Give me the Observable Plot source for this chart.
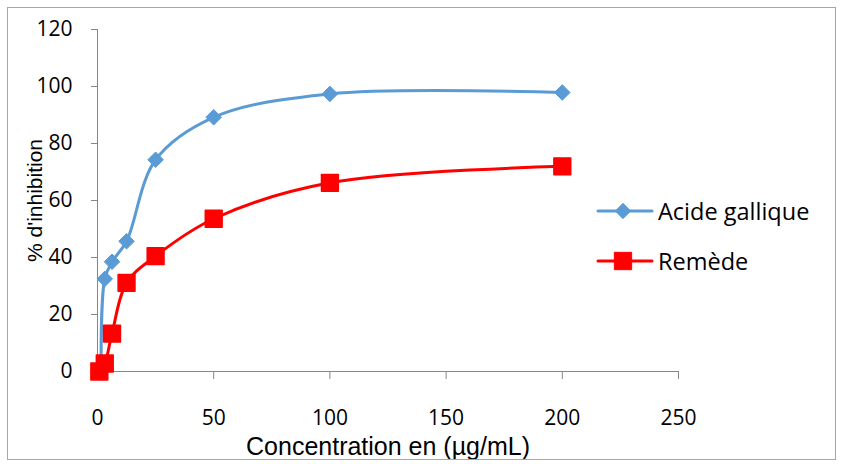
<!DOCTYPE html>
<html>
<head>
<meta charset="utf-8">
<script src="https://cdn.jsdelivr.net/npm/d3@7"></script>
<script src="https://cdn.jsdelivr.net/npm/@observablehq/plot@0.6"></script>
<style>
  body { margin: 0; background: #fff; }
  #wrap { position: relative; width: 842px; height: 464px; overflow: hidden; }
  #frame { position: absolute; left: 7px; top: 7px; width: 829px; height: 453px; border: 1.5px solid #a6a6a6; box-sizing: border-box; pointer-events: none; }
  #chart { position: absolute; left: 0; top: 0; }
  .leg { position: absolute; left: 596px; display: flex; align-items: center; font-family: "Open Sans", sans-serif; font-size: 23.5px; color: #000; }
  .leg svg { display: block; margin-right: 4px; }
</style>
</head>
<body>
<div id="wrap">
  <div id="chart"></div>
  <div id="frame"></div>
  <div class="leg" id="leg1" style="top:195px"></div>
  <div class="leg" id="leg2" style="top:245px"></div>
</div>
<script>
// ---- data ----
const seriesNames = ["Acide gallique", "Remède"];
const concAG = [1.56, 3.125, 6.25, 12.5, 25, 50, 100, 200];
const inhibAG = [0, 32.5, 38.5, 45.7, 74.3, 89.2, 97.4, 97.9];
const concRem = [0.78, 3.125, 6.25, 12.5, 25, 50, 100, 200];
const inhibRem = [0, 2.8, 13.3, 31.1, 40.5, 53.6, 66.2, 72.0];
const xTicks = [0, 50, 100, 150, 200, 250];
const yTicks = [0, 20, 40, 60, 80, 100, 120];
const xTitle = "Concentration en (µg/mL)";
const yTitle = "% d'inhibition";

const blue = "#5b9bd5";
const red = "#ff0000";
const axisGray = "#868686";

const ag = concAG.map((c, i) => ({c, v: inhibAG[i]}));
const rem = concRem.map((c, i) => ({c, v: inhibRem[i]}));

const plot = Plot.plot({
  width: 842,
  height: 464,
  marginLeft: 97,
  marginRight: 164,
  marginTop: 29,
  marginBottom: 93,
  style: { fontFamily: "Open Sans, sans-serif", fontSize: "21px", color: "#000", background: "transparent", overflow: "visible" },
  x: { domain: [0, 250] },
  y: { domain: [0, 120] },
  marks: [
    Plot.ruleY([0], { stroke: axisGray, strokeWidth: 1 }),
    Plot.ruleX([0], { stroke: axisGray, strokeWidth: 1 }),
    Plot.axisX({ ticks: xTicks, tickSize: 8, tickPadding: 31, stroke: axisGray, label: null, fontSize: 21, tickFormat: d => String(d) }),
    Plot.axisY({ ticks: yTicks, tickSize: 6, tickPadding: 19, stroke: axisGray, label: null, fontSize: 21, tickFormat: d => String(d) }),
    Plot.line(ag, { x: "c", y: "v", stroke: blue, strokeWidth: 3, curve: "catmull-rom" }),
    Plot.dot(ag, { x: "c", y: "v", symbol: "diamond2", r: 7, fill: blue, stroke: blue, strokeWidth: 1 }),
    Plot.line(rem, { x: "c", y: "v", stroke: red, strokeWidth: 3, curve: "catmull-rom" }),
    Plot.dot(rem, { x: "c", y: "v", symbol: "square", r: 9.5, fill: red, stroke: red, strokeWidth: 1.5, strokeLinejoin: "round" }),
    Plot.text([xTitle], { text: d => d, frameAnchor: "bottom", dy: 83, fontFamily: "Liberation Sans, Arial, sans-serif", fontSize: 25, fill: "#000" }),
    Plot.text([yTitle], { text: d => d, frameAnchor: "left", textAnchor: "middle", dx: -62, rotate: -90, fontFamily: "Liberation Sans, Arial, sans-serif", fontSize: 21, fill: "#000" })
  ]
});
document.getElementById("chart").appendChild(plot);

// ---- legend ----
function swatch(color, symbol) {
  const s = d3.create("svg").attr("width", 58).attr("height", 20);
  s.append("line").attr("x1", 2).attr("x2", 56).attr("y1", 10).attr("y2", 10)
    .attr("stroke", color).attr("stroke-width", 3).attr("stroke-linecap", "round");
  const size = symbol === "diamond" ? 150 : 300;
  const sym = symbol === "diamond" ? d3.symbolDiamond2 : d3.symbolSquare;
  s.append("path").attr("transform", "translate(27,10)")
    .attr("d", d3.symbol(sym, size)())
    .attr("fill", color).attr("stroke", color).attr("stroke-linejoin", "round");
  return s.node();
}
const l1 = document.getElementById("leg1");
l1.appendChild(swatch(blue, "diamond"));
l1.appendChild(document.createTextNode(seriesNames[0]));
const l2 = document.getElementById("leg2");
l2.appendChild(swatch(red, "square"));
l2.appendChild(document.createTextNode(seriesNames[1]));
</script>
</body>
</html>
